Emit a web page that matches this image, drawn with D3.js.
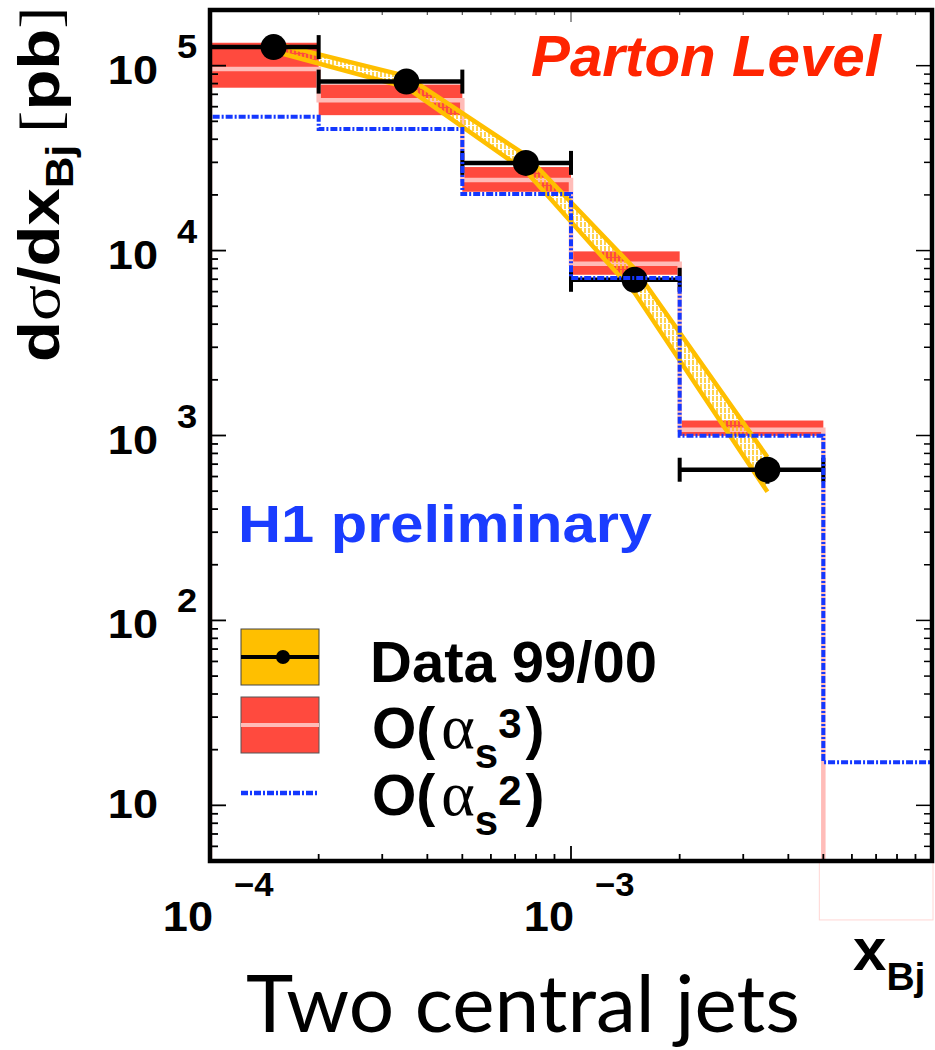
<!DOCTYPE html>
<html lang="en">
<head>
<meta charset="UTF-8">
<title>Two central jets</title>
<style>
  body { margin: 0; background: #fff; }
  svg { display: block; }
</style>
</head>
<body>
<svg id="svg" width="935" height="1050"></svg>
<script src="https://d3js.org/d3.v7.min.js"></script>
<script>
// bins in x_Bj
const binEdges = [1e-4, 2e-4, 5e-4, 1e-3, 2e-3, 5e-3, 1e-2]
// data 99/00
const dataX = [1.5e-4, 3.5e-4, 7.5e-4, 1.5e-3, 3.5e-3]
const dataY = [1.26e5, 8.2e4, 2.98e4, 6.95e3, 653]
const statErr = [0.02, 0.03, 0.04, 0.06, 0.16]
const sysUp = [0.05, 0.07, 0.10, 0.15, 0.17]
const sysDown = [0.05, 0.07, 0.10, 0.15, 0.24]
// O(as^3) band, per bin
const nloCentral = [9.6e4, 6.5e4, 2.41e4, 8.5e3, 1075, 2.4]
const nloUp = [1.33e5, 7.9e4, 2.83e4, 9.9e3, 1205, 2.4]
const nloDown = [7.6e4, 5.4e4, 2.08e4, 7.4e3, 996, 2.4]
// O(as^2), per bin
const loValues = [5.3e4, 4.55e4, 2.02e4, 7.1e3, 996, 17.1]
// tick decades
const yDecades = [1, 2, 3, 4, 5]
const xDecades = [-4, -3]

const yellow = '#ffbf00', red = '#ff4a3e', pink = '#ffbcb8', blue = '#1438ff'

const svg = d3.select('#svg')
const x = d3.scaleLog().domain([1e-4, 1e-2]).range([210, 932])
const y = d3.scaleLog().domain([5, 2e5]).range([861, 10])
const [x0, x1] = x.range(), [y1, y0] = y.range()

const defs = svg.append('defs')
defs.append('clipPath').attr('id', 'clip')
    .append('rect').attr('x', x0).attr('y', y0).attr('width', x1 - x0).attr('height', y1 - y0)
const hatch = defs.append('pattern').attr('id', 'hatch')
    .attr('patternUnits', 'userSpaceOnUse').attr('width', 4).attr('height', 6)
hatch.append('line').attr('x1', 1).attr('x2', 1).attr('y1', 0).attr('y2', 5)
    .attr('stroke', yellow).attr('stroke-width', 1.4)

const bins = d3.range(binEdges.length - 1).map(i => ({
    lo: binEdges[i], hi: binEdges[i + 1],
    c: nloCentral[i], up: nloUp[i], dn: nloDown[i], lo2: loValues[i]
}))

// step path helper
function stepPath(vals) {
    const pts = [[x0, y1 + 20]]
    bins.forEach((b, i) => {
        pts.push([x(b.lo), y(vals[i])])
        pts.push([x(b.hi), y(vals[i])])
    })
    pts.push([x1, y1 + 20])
    return d3.line()(pts)
}

const plot = svg.append('g').attr('clip-path', 'url(#clip)')

// O(as^3) band
plot.selectAll('rect.nlo').data(bins).enter().append('rect')
    .attr('class', 'nlo')
    .attr('x', d => x(d.lo)).attr('width', d => x(d.hi) - x(d.lo))
    .attr('y', d => y(d.up)).attr('height', d => Math.max(0, y(d.dn) - y(d.up)))
    .attr('fill', red)
plot.append('path').attr('d', stepPath(nloCentral))
    .attr('fill', 'none').attr('stroke', pink).attr('stroke-width', 4.5)

// data systematic band
const bandTop = dataX.map((d, i) => [x(d), y(dataY[i] * (1 + sysUp[i]))])
const bandBot = dataX.map((d, i) => [x(d), y(dataY[i] * (1 - sysDown[i]))])
plot.append('path').attr('d', d3.line()(bandTop.concat(bandBot.slice().reverse())) + 'Z')
    .attr('fill', 'url(#hatch)')
;[bandTop, bandBot].forEach(p => {
    plot.append('path').attr('d', d3.line()(p))
        .attr('fill', 'none').attr('stroke', yellow).attr('stroke-width', 4.5)
})

// data points with error bars
const pts = plot.selectAll('g.pt').data(dataX).enter().append('g').attr('class', 'pt')
pts.append('line')
    .attr('x1', (d, i) => x(binEdges[i])).attr('x2', (d, i) => x(binEdges[i + 1]))
    .attr('y1', (d, i) => y(dataY[i])).attr('y2', (d, i) => y(dataY[i]))
    .attr('stroke', '#000').attr('stroke-width', 4.5)
;[0, 1].forEach(k => {
    pts.append('line')
        .attr('x1', (d, i) => x(binEdges[i + k])).attr('x2', (d, i) => x(binEdges[i + k]))
        .attr('y1', (d, i) => y(dataY[i]) - 12).attr('y2', (d, i) => y(dataY[i]) + 12)
        .attr('stroke', '#000').attr('stroke-width', 4)
})
pts.append('line')
    .attr('x1', d => x(d)).attr('x2', d => x(d))
    .attr('y1', (d, i) => y(dataY[i] * (1 + statErr[i])))
    .attr('y2', (d, i) => y(dataY[i] * (1 - statErr[i])))
    .attr('stroke', '#000').attr('stroke-width', 4)
pts.append('circle')
    .attr('cx', d => x(d)).attr('cy', (d, i) => y(dataY[i])).attr('r', 13)
    .attr('fill', '#000')

// O(as^2) line
plot.append('path').attr('d', stepPath(loValues))
    .attr('fill', 'none').attr('stroke', blue).attr('stroke-width', 4)
    .attr('stroke-dasharray', '7,2,2,2')

// below-range outline of last NLO bin
const last = bins[bins.length - 1]
svg.append('rect')
    .attr('x', x(last.lo) - 4).attr('width', x(last.hi) - x(last.lo) + 5)
    .attr('y', y1).attr('height', y(last.c) - y1)
    .attr('fill', 'none').attr('stroke', '#ffd6d4').attr('stroke-width', 1)

// ticks
const axes = svg.append('g').attr('stroke', '#000')
y.ticks().forEach(t => {
    const major = Math.abs(Math.log10(t) - Math.round(Math.log10(t))) < 1e-6
    const len = major ? 16 : 8
    axes.append('line').attr('x1', x0).attr('x2', x0 + len).attr('y1', y(t)).attr('y2', y(t)).attr('stroke-width', 1.8)
    axes.append('line').attr('x1', x1).attr('x2', x1 - len).attr('y1', y(t)).attr('y2', y(t)).attr('stroke-width', 1.5)
})
x.ticks().forEach(t => {
    const major = Math.abs(Math.log10(t) - Math.round(Math.log10(t))) < 1e-6
    axes.append('line').attr('x1', x(t)).attr('x2', x(t)).attr('y1', y1).attr('y2', y1 - (major ? 15 : 7)).attr('stroke-width', 1.8)
    axes.append('line').attr('x1', x(t)).attr('x2', x(t)).attr('y1', y0).attr('y2', y0 + (major ? 12 : 5))
        .attr('stroke-width', 1.2).attr('stroke', '#555')
})

// frame
svg.append('rect').attr('x', x0).attr('y', y0).attr('width', x1 - x0).attr('height', y1 - y0)
    .attr('fill', 'none').attr('stroke', '#000').attr('stroke-width', 4.5)

// tick labels
const bold = 'font-family: "Liberation Sans", Arial, sans-serif; font-weight: bold'
yDecades.forEach(e => {
    const ty = y(Math.pow(10, e))
    svg.append('text').attr('transform', `translate(158,${ty + (e === 1 ? 13 : 18)}) scale(1.1,1)`)
        .attr('text-anchor', 'end').attr('style', bold).style('font-size', '41px').text('10')
    if (e > 1) {
        svg.append('text').attr('transform', `translate(177,${ty - 8}) scale(1.1,1)`)
            .attr('style', bold).style('font-size', '33px').text(e)
    }
})
xDecades.forEach(e => {
    const tx = x(Math.pow(10, e))
    svg.append('text').attr('transform', `translate(${tx + 3},931) scale(1.05,1)`)
        .attr('text-anchor', 'end').attr('style', bold).style('font-size', '43px').text('10')
    svg.append('text').attr('transform', `translate(${tx + 24},896) scale(1.05,1)`)
        .attr('style', bold).style('font-size', '33px').text('\u2212' + Math.abs(e))
})

// y axis title
const yt = svg.append('text').attr('transform', 'translate(59,362) rotate(-90)')
    .attr('style', bold).style('font-size', '58px')
yt.append('tspan').text('d')
yt.append('tspan').style('font-family', '"Liberation Serif", serif').style('font-weight', 'normal').text('\u03c3')
yt.append('tspan').text('/dx')
yt.append('tspan').attr('dy', 14).style('font-size', '38px').text('Bj')
yt.append('tspan').attr('dy', -14).attr('dx', 10).style('font-family', '"Liberation Serif", serif')
    .style('font-weight', 'normal').text('[')
yt.append('tspan').text('pb')
yt.append('tspan').style('font-family', '"Liberation Serif", serif')
    .style('font-weight', 'normal').text(']')
const ytw = yt.node().getComputedTextLength()
yt.attr('transform', `translate(59,362) rotate(-90) scale(${344 / ytw},1)`)

// x axis title
const xt = svg.append('text').attr('x', 853).attr('y', 970).attr('style', bold).style('font-size', '60px')
xt.append('tspan').text('x')
xt.append('tspan').attr('dy', 20).style('font-size', '39px').text('Bj')

// labels in plot
svg.append('text').attr('x', 531).attr('y', 76)
    .attr('style', bold).style('font-style', 'italic').style('font-size', '58px')
    .attr('fill', '#ff2400').attr('textLength', 350).attr('lengthAdjust', 'spacingAndGlyphs')
    .text('Parton Level')
svg.append('text').attr('x', 238).attr('y', 542)
    .attr('style', bold).style('font-size', '51px').attr('fill', '#1a3cff')
    .attr('textLength', 414).attr('lengthAdjust', 'spacingAndGlyphs').text('H1 preliminary')

// legend
const lg = svg.append('g')
lg.append('rect').attr('x', 241).attr('y', 629).attr('width', 78).attr('height', 56)
    .attr('fill', yellow).attr('stroke', '#444').attr('stroke-width', 1)
lg.append('line').attr('x1', 241).attr('x2', 319).attr('y1', 657).attr('y2', 657)
    .attr('stroke', '#000').attr('stroke-width', 4)
lg.append('circle').attr('cx', 283).attr('cy', 657).attr('r', 7).attr('fill', '#000')
lg.append('rect').attr('x', 241).attr('y', 697).attr('width', 78).attr('height', 56)
    .attr('fill', red).attr('stroke', '#555').attr('stroke-width', 1)
lg.append('line').attr('x1', 241).attr('x2', 319).attr('y1', 725).attr('y2', 725)
    .attr('stroke', pink).attr('stroke-width', 4)
lg.append('line').attr('x1', 241).attr('x2', 319).attr('y1', 793).attr('y2', 793)
    .attr('stroke', blue).attr('stroke-width', 4.5).attr('stroke-dasharray', '7,2,2,2')

lg.append('text').attr('x', 370).attr('y', 682).attr('style', bold).style('font-size', '58px').text('Data 99/00')
;[['3', 748], ['2', 815]].forEach(([p, by]) => {
    const t = lg.append('text').attr('x', 372).attr('y', by).attr('style', bold).style('font-size', '57px')
    t.append('tspan').text('O(')
    t.append('tspan').attr('dx', 6).style('font-family', '"Liberation Serif", serif')
        .style('font-weight', 'normal').style('font-size', '64px').text('\u03b1')
    t.append('tspan').attr('dy', 20).style('font-size', '42px').text('s')
    t.append('tspan').attr('dy', -30).style('font-size', '42px').text(p)
    t.append('tspan').attr('dy', 10).attr('dx', 4).text(')')
})

// caption
svg.append('text').attr('x', 246).attr('y', 1032)
    .style('font-family', 'Lato, "Open Sans", sans-serif').style('font-size', '80px')
    .attr('textLength', 554).attr('lengthAdjust', 'spacingAndGlyphs').text('Two central jets')
</script>
</body>
</html>
